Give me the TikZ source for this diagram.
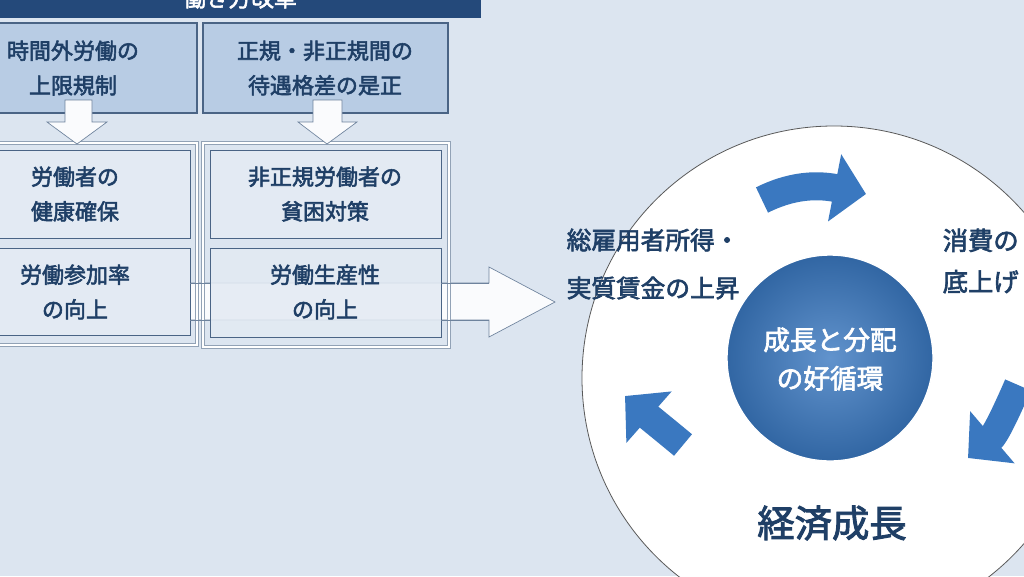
\documentclass[tikz,border=0pt]{standalone}
\usepackage{fontspec}
\setmainfont{Noto Sans CJK JP}[BoldFont={Noto Sans CJK JP},BoldFeatures={FakeBold=2.5}]
\usetikzlibrary{arrows.meta,shadings}
\definecolor{bg}{HTML}{DCE5F0}
\definecolor{navy}{HTML}{24497A}
\definecolor{txt}{HTML}{1F3F66}
\definecolor{topf}{HTML}{B8CCE4}
\definecolor{inf}{HTML}{E3EAF3}
\definecolor{edge}{HTML}{4A6485}
\definecolor{arr}{HTML}{3A78C0}
\tikzset{
 topbox/.style={draw=edge,fill=topf,line width=0.8pt},
 inbox/.style={draw=edge,fill=inf,line width=0.6pt},
 frame/.style={draw=edge!60,double=white,double distance=2.2pt,line width=0.4pt},
 lbl/.style={text=txt,font=\bfseries\fontsize{16.5}{26}\selectfont,align=center},
 big/.style={text=txt,font=\bfseries\fontsize{18.5}{36}\selectfont,align=left},
 cyc/.style={arr,line width=21pt,-{Triangle[width=50pt,length=24pt]}},
 darr/.style={draw=edge!80,fill=white!85!bg,line width=0.5pt}
}
\begin{document}
\begin{tikzpicture}[x=0.75pt,y=-0.75pt]
\fill[bg] (0,0) rectangle (1024,576);
\useasboundingbox (0,0) rectangle (1024,576);
\begin{scope}
\clip (0,0) rectangle (1024,576);
% header
\fill[navy] (-5,-30) rectangle (481,18);
\node[text=white,font=\bfseries\fontsize{17}{18}\selectfont] (hdr) at (240,-2) {働き方改革};
% top boxes
\draw[topbox] (-5,23) rectangle (197,113);
\node[lbl] (t1) at (73,68) {時間外労働の\\上限規制};
\draw[topbox] (203,23) rectangle (448,113);
\node[lbl] (t2) at (325,68) {正規・非正規間の\\待遇格差の是正};
% big right arrow
\draw[darr] (170,283) -- (489,283) -- (489,267) -- (555,302) -- (489,337) -- (489,320) -- (170,320) -- cycle;
% frames
\draw[frame] (-5,143) rectangle (197,345);
\draw[frame] (203,143) rectangle (449,347);
% inner boxes
\draw[inbox] (-5,150) rectangle (190,238);
\node[lbl] (a1) at (75,194) {労働者の\\健康確保};
\draw[inbox] (-5,248) rectangle (190,335);
\node[lbl] (a2) at (75,292) {労働参加率\\の向上};
\draw[inbox] (210,150) rectangle (441,238);
\node[lbl] (b1) at (325,194) {非正規労働者の\\貧困対策};
\draw[inbox,fill opacity=0.85] (210,248) rectangle (441,337);
\node[lbl] (b2) at (325,292) {労働生産性\\の向上};
% arrow outline in gaps
\draw[edge!80,line width=0.5pt] (190,283) -- (210,283) (190,320) -- (210,320) (441,283) -- (489,283) (441,320) -- (489,320);
% down arrows
\draw[darr] (65,100) -- (92,100) -- (92,122) -- (107,122) -- (77,144) -- (47,122) -- (65,122) -- cycle;
\draw[darr] (313,100) -- (342,100) -- (342,122) -- (357,122) -- (327,144) -- (298,122) -- (313,122) -- cycle;
% circle
\draw[fill=white,draw=gray!70!black,line width=0.6pt] (834,378) circle (252);
\shade[inner color=arr!80!white,outer color=arr!85!black,draw=white,line width=1pt] (830,358) circle (103);
\node[text=white,font=\bfseries\fontsize{20}{29}\selectfont,align=center] (core) at (830,359) {成長と分配\\の好循環};
\node[big,anchor=west] (l1) at (562,264) {総雇用者所得・\\実質賃金の上昇};
\node[big,anchor=west,font=\bfseries\fontsize{19}{31}\selectfont] (l2) at (938,261) {消費の\\底上げ};
\node[text=txt,font=\bfseries\fontsize{28}{30}\selectfont] (eco) at (832,523) {経済成長};
% cycle arrows
\draw[cyc] (762,200) .. controls (790,186) and (815,184) .. (866,194);
\draw[cyc] (1018,385) .. controls (1005,415) and (995,435) .. (968,458);
\draw[cyc] (683,445) .. controls (665,430) and (650,418) .. (625,396);
\end{scope}
\end{tikzpicture}
\end{document}
